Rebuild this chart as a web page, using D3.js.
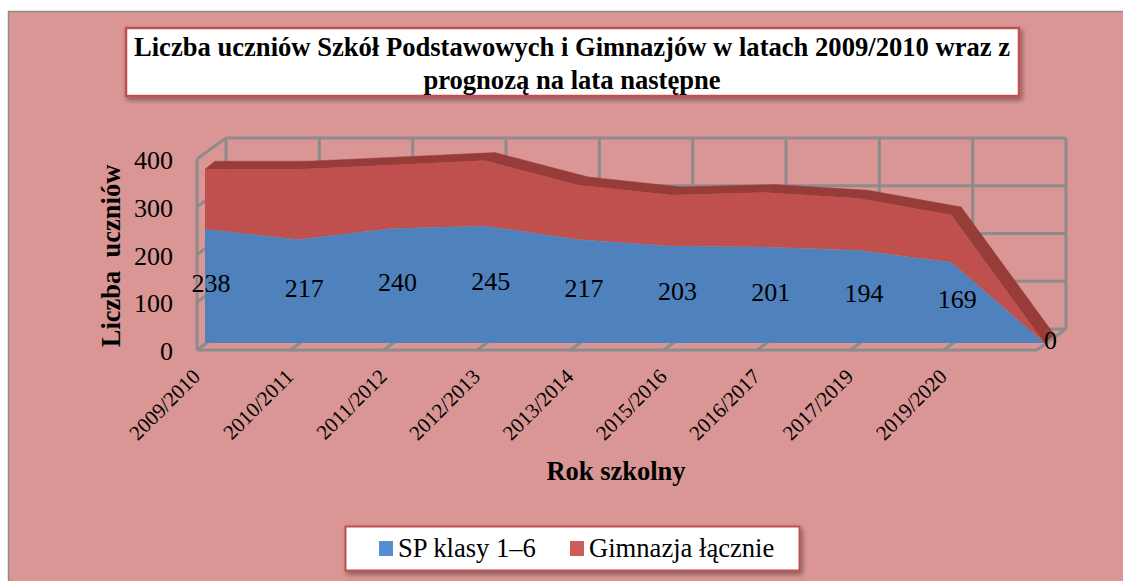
<!DOCTYPE html>
<html><head><meta charset="utf-8">
<script src="https://cdn.jsdelivr.net/npm/d3@7/dist/d3.min.js"></script>
<style>html,body{margin:0;padding:0;background:#fff}svg{display:block}text{font-family:"Liberation Serif",serif;fill:#000}</style>
</head><body><svg id="c" width="1123" height="581"></svg>
<script>
const categories=["2009/2010","2010/2011","2011/2012","2012/2013","2013/2014","2015/2016","2016/2017","2017/2019","2019/2020",""];
const spValues=[238,217,240,245,217,203,201,194,169,0];
const gimValues=[126,147,133,137,114,107,114,109,99,0];
const yTicks=[0,100,200,300,400];
const seriesNames=["SP klasy 1–6","Gimnazja łącznie"];
const titleLines=["Liczba uczniów Szkół Podstawowych i Gimnazjów w latach 2009/2010 wraz z","prognozą na lata następne"];

const svg=d3.select("#c");
const defs=svg.append("defs");
const f=defs.append("filter").attr("id","sh").attr("x","-5%").attr("y","-20%").attr("width","110%").attr("height","140%");
f.append("feDropShadow").attr("dx",2).attr("dy",3).attr("stdDeviation",2.5).attr("flood-color","#000").attr("flood-opacity",.4);

svg.append("rect").attr("x",8.5).attr("y",11.5).attr("width",1130).attr("height",590).attr("fill","#d99694").attr("stroke","#8c8c8c").attr("stroke-width",1.5);

// scales
const dx=29,dy=-21,gridCol="#8c8c8c";
const xTick=d3.scaleLinear().domain([0,9]).range([197,1037]);
const y=d3.scaleLinear().domain([0,400]).range([350,159]);
const xArea=d3.scalePoint().domain(d3.range(10)).range([205,1044.5]);
const yArea=v=>y(v)-7;
const rib=[10,-8];

const grid=svg.append("g").attr("fill","none").attr("stroke",gridCol).attr("stroke-width",3);
function ln(a,b,c,d){grid.append("line").attr("x1",a).attr("y1",b).attr("x2",c).attr("y2",d);}
yTicks.forEach(t=>{ln(xTick(0),y(t),xTick(0)+dx,y(t)+dy);ln(xTick(0)+dx,y(t)+dy,xTick(9)+dx,y(t)+dy);});
d3.range(10).forEach(i=>{ln(xTick(i)+dx,y(0)+dy,xTick(i)+dx,y(400)+dy);ln(xTick(i),y(0),xTick(i)+dx,y(0)+dy);});
ln(xTick(0),y(0),xTick(9),y(0));
ln(xTick(0),y(0),xTick(0),y(400));

const totals=spValues.map((v,i)=>v+gimValues[i]);
const ribbon=svg.append("g").attr("fill","#983c3a").attr("stroke","#983c3a").attr("stroke-width",.5);
d3.range(9).forEach(i=>{
  const a=[xArea(i),yArea(totals[i])],b=[xArea(i+1),yArea(totals[i+1])];
  ribbon.append("polygon").attr("points",[a,b,[b[0]+rib[0],b[1]+rib[1]],[a[0]+rib[0],a[1]+rib[1]]].map(p=>p.join(",")).join(" "));
});
const area=(lo,hi)=>d3.area().x((d,i)=>xArea(i)).y0((d,i)=>yArea(lo[i])).y1((d,i)=>yArea(hi[i]))(categories);
svg.append("path").attr("d",area(spValues,totals)).attr("fill","#c0504d");
svg.append("path").attr("d",area(spValues.map(()=>0),spValues)).attr("fill","#4f81bd");

// axes
const ay=svg.append("g").attr("transform",`translate(${xTick(0)},0)`).call(d3.axisLeft(y).tickValues(yTicks).tickSize(0).tickPadding(0));
ay.select(".domain").remove();
ay.selectAll("text").attr("x",-24).attr("y",1).attr("dy",".33em").attr("text-anchor","end").style("font-size","26px");

const catScale=d3.scalePoint().domain(categories.slice(0,9)).range([xTick(0),xTick(8)]);
const ax=svg.append("g").attr("transform",`translate(0,${y(0)})`).call(d3.axisBottom(catScale).tickSize(0));
ax.select(".domain").remove();
ax.selectAll("text").attr("text-anchor","end").attr("x",-1).attr("y",23).attr("dy",".33em").attr("transform","rotate(-45 -1 23)").style("font-size","21px");

// data labels
svg.append("g").selectAll("text").data(spValues).join("text")
 .attr("x",(d,i)=>xArea(i)+6).attr("y",d=>yArea(d/2)-3).attr("dy",".33em")
 .attr("text-anchor","middle").style("font-size","26px").text(d=>d);

// axis titles
svg.append("text").attr("transform","translate(120,256) rotate(-90)").attr("text-anchor","middle").style("font-size","26.5px").style("font-weight","bold").attr("xml:space","preserve").text("Liczba  uczniów");
svg.append("text").attr("x",616).attr("y",480).attr("text-anchor","middle").style("font-size","26.5px").style("font-weight","bold").text("Rok szkolny");

// title box
svg.append("rect").attr("x",126).attr("y",28).attr("width",893).attr("height",68).attr("fill","#fff").attr("stroke","#c0504d").attr("stroke-width",2.5).attr("filter","url(#sh)");
svg.append("g").selectAll("text").data(titleLines).join("text").attr("x",572).attr("y",(d,i)=>56+i*33).attr("text-anchor","middle").style("font-size","26.6px").style("font-weight","bold").text(d=>d);

// legend
svg.append("rect").attr("x",345.5).attr("y",526.5).attr("width",454).attr("height",44).attr("fill","#fff").attr("stroke","#c0504d").attr("stroke-width",2).attr("filter","url(#sh)");
const legX=[379,570],legC=["#558ed5","#cd5b59"],legT=[398,589];
seriesNames.forEach((n,i)=>{
 svg.append("rect").attr("x",legX[i]).attr("y",541).attr("width",14).attr("height",15).attr("fill",legC[i]);
 svg.append("text").attr("x",legT[i]).attr("y",557).style("font-size","26.6px").text(n);
});
</script></body></html>
